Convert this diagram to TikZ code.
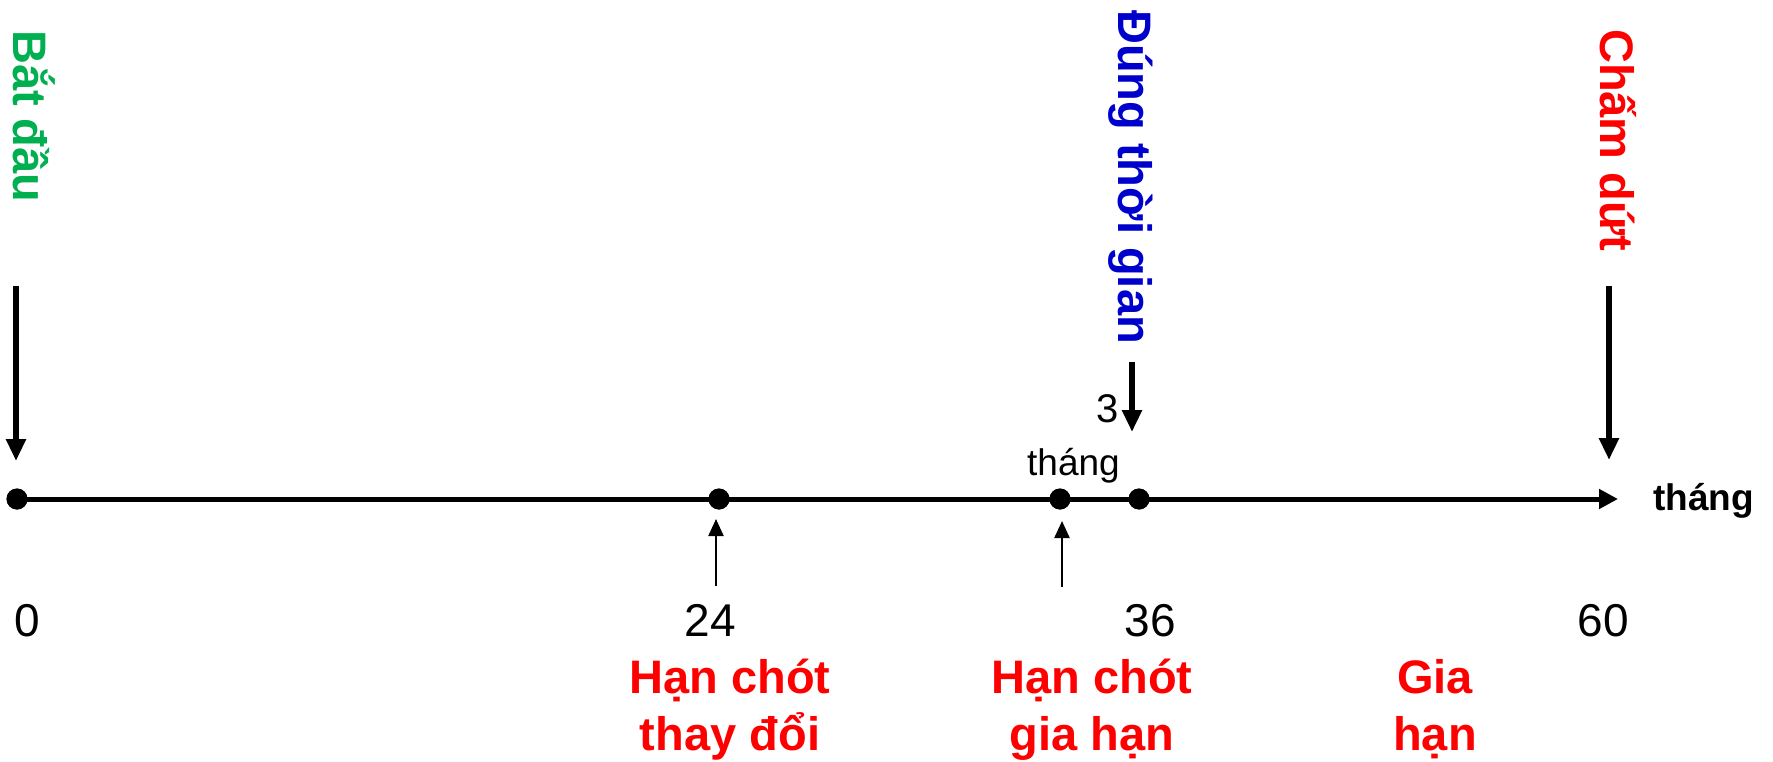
\documentclass[tikz,border=0pt]{standalone}
\usepackage{fontspec}
\setmainfont{Liberation Sans}
\usetikzlibrary{arrows.meta}
\definecolor{lgreen}{RGB}{0,176,80}
\definecolor{lblue}{RGB}{0,0,204}
\definecolor{lred}{RGB}{255,0,0}
\begin{document}
\begin{tikzpicture}[x=1pt,y=-1pt,
  bigfont/.style={font=\fontsize{47}{57}\selectfont\bfseries},
  numfont/.style={font=\fontsize{46}{55}\selectfont},
  smallfont/.style={font=\fontsize{37}{44}\selectfont},
  vlabel/.style={bigfont, rotate=-90, anchor=base west, inner sep=0pt},
  redlabel/.style={bigfont, text=lred, align=center, anchor=base, inner sep=0pt},
  numlabel/.style={numfont, anchor=base, inner sep=0pt},
  dotnode/.style={circle, fill=black, inner sep=0pt, minimum size=21pt},
  axisline/.style={line width=5pt, -{Triangle[width=19pt,length=19pt]}},
  downarrow/.style={line width=5.5pt, -{Triangle[width=19pt,length=22pt]}},
  uparrow/.style={line width=2.2pt, -{Triangle[width=15pt,length=17pt]}}]
\useasboundingbox (0,0) rectangle (1773,762);

% axis
\coordinate (axend) at (1618,499);
\node[dotnode] (d0) at (17,499) {};
\node[dotnode] (d24) at (719,499) {};
\node[dotnode] (d33) at (1060,499) {};
\node[dotnode] (d36) at (1139,499) {};
\draw[axisline] (d0.center) -- (axend);
\node[dotnode] at (d0) {};
\node[dotnode] at (d24) {};
\node[dotnode] at (d33) {};
\node[dotnode] at (d36) {};
\node[font=\fontsize{37}{44}\selectfont\bfseries, anchor=base west, inner sep=0pt] (unit) at (1653,510) {tháng};

% vertical labels
\node[vlabel, text=lgreen] (tstart) at (13,30) {Bắt đầu};
\node[vlabel, text=lblue] (tdue) at (1118,10) {Đúng thời gian};
\node[vlabel, text=lred] (tend) at (1600,29) {Chấm dứt};

% down arrows
\coordinate (s0) at (16,286);
\coordinate (e0) at (16,461);
\draw[downarrow] (s0) -- (e0);
\coordinate (s3) at (1132,362);
\coordinate (e3) at (1132,432);
\draw[downarrow] (s3) -- (e3);
\coordinate (s60) at (1609,286);
\coordinate (e60) at (1609,460);
\draw[downarrow] (s60) -- (e60);

% 3 thang
\node[font=\fontsize{40}{48}\selectfont, anchor=base east, inner sep=0pt] (three) at (1119,422) {3};
\node[smallfont, anchor=base west, inner sep=0pt] (thang) at (1027,475) {tháng};

% up arrows
\coordinate (u24s) at (716,586);
\coordinate (u24e) at (716,519);
\draw[uparrow] (u24s) -- (u24e);
\coordinate (u33s) at (1062,587);
\coordinate (u33e) at (1062,521);
\draw[uparrow] (u33s) -- (u33e);

% numbers
\node[numlabel] (n0) at (27,636) {0};
\node[numlabel] (n24) at (710,636) {24};
\node[numlabel] (n36) at (1150,636) {36};
\node[numlabel] (n60) at (1603,636) {60};

% red labels
\node[redlabel] (l24) at (730,750) {Hạn chót\\thay đổi};
\node[redlabel] (l33) at (1092,750) {Hạn chót\\gia hạn};
\node[redlabel] (l60) at (1435,750) {Gia\\hạn};
\end{tikzpicture}
\end{document}
